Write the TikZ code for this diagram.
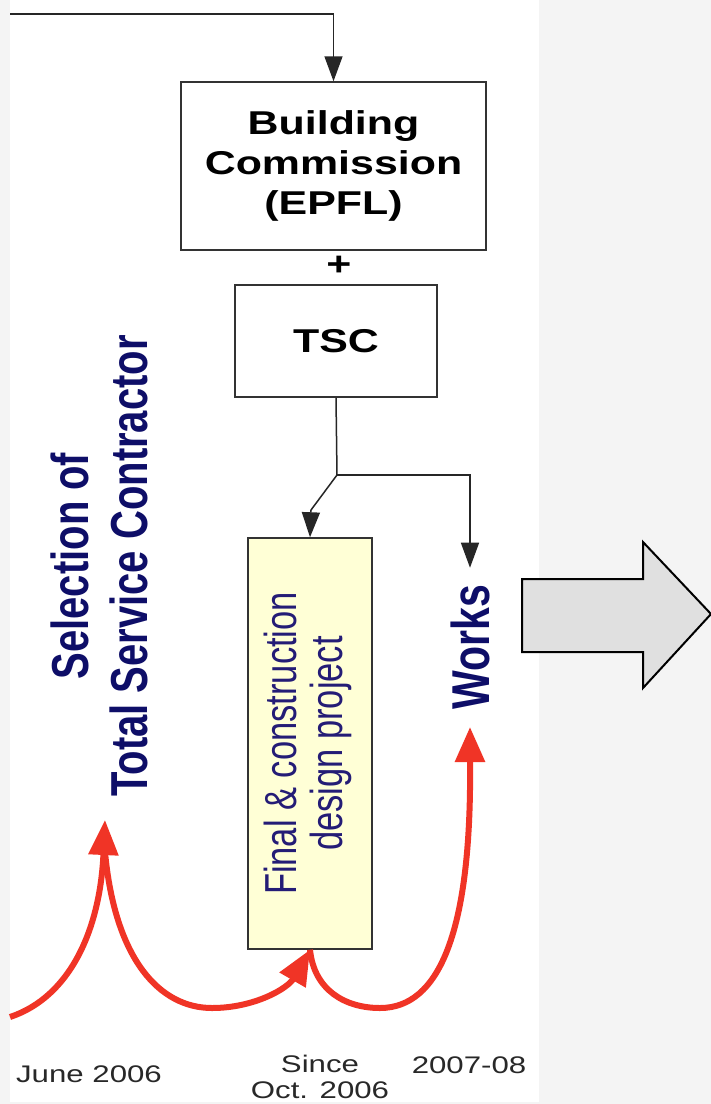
\documentclass[tikz,border=0pt]{standalone}
\usepackage{fontspec}
\setmainfont{Liberation Sans}
\usepackage{graphicx}
\usetikzlibrary{arrows.meta}
\definecolor{navy}{RGB}{14,14,104}
\definecolor{navyb}{RGB}{36,28,118}
\definecolor{redc}{RGB}{240,52,38}
\definecolor{panel}{RGB}{244,244,244}
\definecolor{lbl}{RGB}{40,40,40}
\definecolor{yel}{RGB}{255,255,214}
\definecolor{arrowgray}{RGB}{224,224,224}
\newcommand\hstr[1]{\scalebox{1.3}[1]{#1}}
\newcommand\vstr[1]{\scalebox{1}[1.3]{#1}}
\begin{document}
\begin{tikzpicture}[x=1pt,y=-1pt,
  box/.style={draw=black!80,line width=1.5pt,inner sep=0pt},
  conn/.style={draw=black!85,line width=1.5pt,-{Triangle[length=25pt,width=18pt]}},
  plainline/.style={draw=black!85,line width=1.5pt},
  redarr/.style={draw=redc,line width=6pt,-{Triangle[length=35pt,width=29pt]}},
  title/.style={text=navy,font=\bfseries,inner sep=0pt,outer sep=0pt},
  datelbl/.style={text=lbl,font=\fontsize{24}{26}\selectfont,anchor=base,inner sep=0pt}
]
\useasboundingbox (0,0) rectangle (711,1104);
\fill[panel] (0,0) rectangle (711,1104);
\fill[white] (10,0) rectangle (539,1102);

% boxes
\node[box,minimum width=305pt,minimum height=168pt,font=\fontsize{33}{40}\selectfont\bfseries]
  (bc) at (333.5,166) {\hstr{\begin{tabular}{@{}c@{}}Building\\Commission\\(EPFL)\end{tabular}}};
\node[font=\fontsize{33}{36}\selectfont\bfseries,inner sep=0pt] (plus) at (339,266) {\hstr{+}};
\node[box,minimum width=202pt,minimum height=112pt,font=\fontsize{33}{36}\selectfont\bfseries]
  (tsc) at (336,341) {\hstr{TSC}};
\node[box,fill=yel,minimum width=124pt,minimum height=411pt] (final) at (310,743.5) {};
\node[rotate=90,text=navyb,inner sep=0pt,font=\fontsize{34.5}{34}\selectfont]
  (finaltxt) at (final.center) {\vstr{\begin{tabular}{@{}c@{}}Final \& construction\\design project\end{tabular}}};

% rotated titles
\node[title,rotate=90,font=\fontsize{40}{46}\selectfont\bfseries]
  (sel) at (106,566) {\vstr{\begin{tabular}{@{}c@{}}Selection of\\Total Service Contractor\end{tabular}}};
\node[title,rotate=90,font=\fontsize{41}{46}\selectfont\bfseries,inner xsep=17pt]
  (works) at (470,647) {\vstr{Works}};

% black connectors
\coordinate (tl) at (10,14);
\coordinate (br) at (337,475);
\coordinate (bend) at (311,510);
\draw[conn] (tl) -| (bc.north);
\draw[plainline] (tsc.south) -- (br);
\draw[conn] (br) -| (works.east);
\draw[conn] (br) -- (bend) -- (final.north);

% red timeline arrows
\coordinate (r0) at (10,1017);
\coordinate (selpeak) at (105,820);
\coordinate (selbase) at (105,852);
\coordinate (wkin) at (470,727);
\draw[redarr] (r0) .. controls (70,997) and (100,930) .. (selpeak);
\draw[redarr] (selbase) .. controls (115,960) and (160,1008) .. (212,1008)
  .. controls (255,1008) and (288,988) .. (final.south);
\draw[redarr] (final.south) .. controls (314,990) and (345,1008) .. (380,1008)
  .. controls (440,1008) and (468,930) .. (470,790) -- (wkin);

% big gray arrow
\draw[fill=arrowgray,draw=black,line width=2pt,line join=miter]
  (522,579) -- (643,579) -- (643,542) -- (711,614) -- (643,688) -- (643,652) -- (522,652) -- cycle;

% date labels
\node[datelbl] (d1) at (89,1082) {\hstr{June 2006}};
\node[datelbl] (d2) at (320,1072) {\hstr{\begin{tabular}[t]{@{}c@{}}Since\\Oct. 2006\end{tabular}}};
\node[datelbl] (d3) at (469,1073) {\hstr{2007-08}};
\end{tikzpicture}
\end{document}
